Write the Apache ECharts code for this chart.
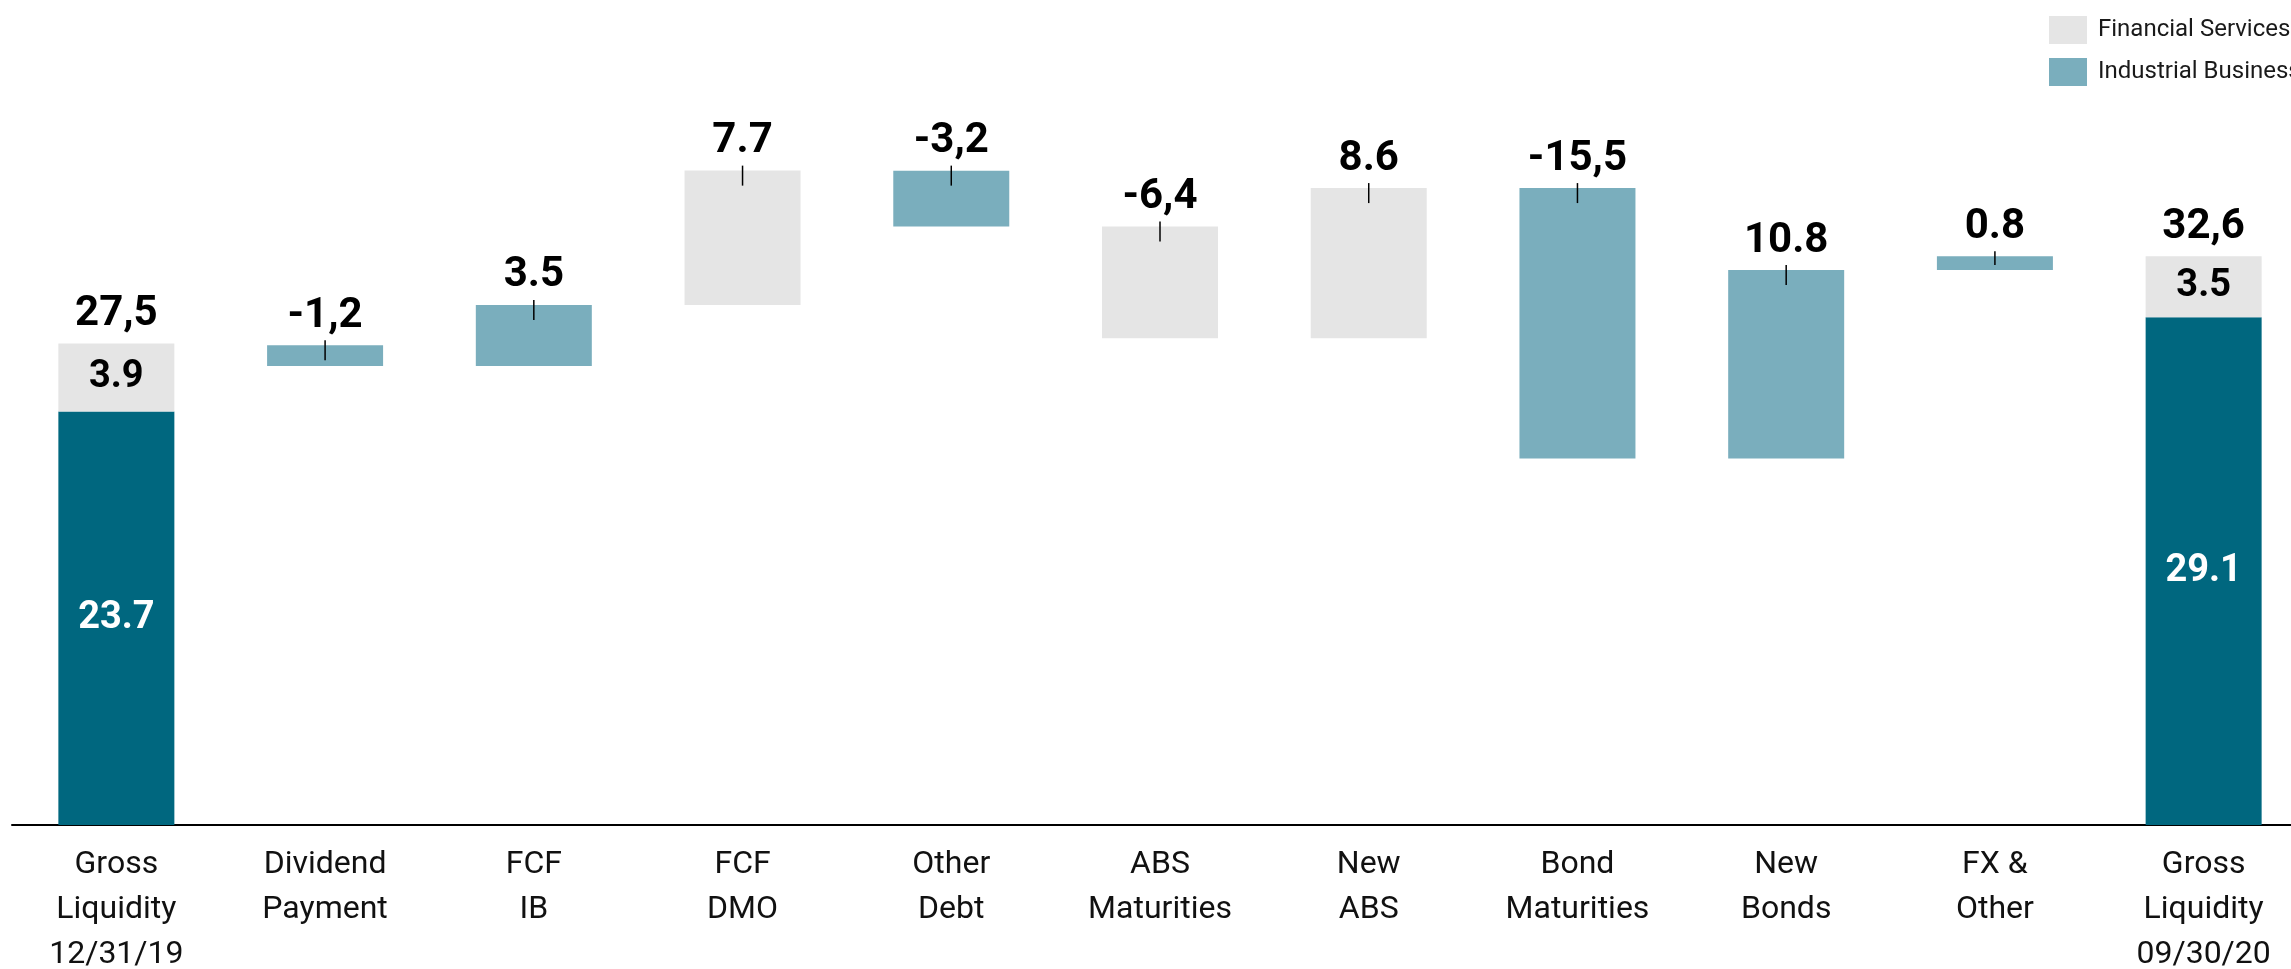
<!DOCTYPE html>
<html>
<head>
<meta charset="utf-8">
<script src="https://cdn.jsdelivr.net/npm/echarts@6/dist/echarts.min.js"></script>
<style>
  html, body { margin: 0; padding: 0; background: #ffffff; }
  #chart { width: 2291px; height: 969px; }
</style>
</head>
<body>
<div id="chart"></div>
<script>
// ---- data ----
const categories = [
  'Gross\nLiquidity\n12/31/19', 'Dividend\nPayment', 'FCF\nIB', 'FCF\nDMO', 'Other\nDebt',
  'ABS\nMaturities', 'New\nABS', 'Bond\nMaturities', 'New\nBonds', 'FX &\nOther',
  'Gross\nLiquidity\n09/30/20'
];
const startIB = 23.7;
const startFS = 3.9;
const startTotal = 27.5;
const endIB = 29.1;
const endFS = 3.5;
const endTotal = 32.6;
const deltas = [-1.2, 3.5, 7.7, -3.2, -6.4, 8.6, -15.5, 10.8, 0.8];
const deltaSegment = ['IB', 'IB', 'FS', 'IB', 'FS', 'FS', 'IB', 'IB', 'IB'];
const topLabels = ['27,5', '-1,2', '3.5', '7.7', '-3,2', '-6,4', '8.6', '-15,5', '10.8', '0.8', '32,6'];

// ---- build waterfall series ----
const n = categories.length;
const baseData = ['-'];
const totalData = [startIB];
const ibData = ['-'];
const fsData = [startFS];
const tickData = [[0, startIB + startFS, 0]];
let level = startTotal;
deltas.forEach((d, k) => {
  const i = k + 1;
  const next = level + d;
  const lo = Math.min(level, next), hi = Math.max(level, next);
  baseData.push(lo);
  totalData.push('-');
  if (deltaSegment[k] === 'IB') { ibData.push(Math.abs(d)); fsData.push('-'); }
  else { fsData.push(Math.abs(d)); ibData.push('-'); }
  tickData.push([i, hi, lo]);
  level = next;
});
baseData.push('-');
totalData.push(endIB);
ibData.push('-');
fsData.push(endFS);
tickData.push([n - 1, endIB + endFS, 0]);

const FONT = 'Roboto, "Noto Sans", "DejaVu Sans", sans-serif';
const C_DARK = '#00677f';
const C_IB = '#7aaebd';
const C_FS = '#e5e5e5';

const chart = echarts.init(document.getElementById('chart'), null, { renderer: 'canvas' });
chart.setOption({
  backgroundColor: '#ffffff',
  animation: false,
  legend: {
    data: ['Financial Services', 'Industrial Business'],
    orient: 'vertical',
    left: 2044,
    top: 11,
    itemWidth: 38,
    itemHeight: 28,
    itemGap: 14,
    icon: 'rect',
    textStyle: { fontFamily: FONT, fontSize: 24, color: '#1a1a1a', padding: [0, 0, 0, 6] }
  },
  grid: {
    left: 12, width: 2296, top: 127, height: 698,
    containLabel: false, outerBoundsMode: 'none'
  },
  xAxis: {
    type: 'category',
    data: categories,
    boundaryGap: true,
    axisLine: { show: true, lineStyle: { color: '#000000', width: 2 } },
    axisTick: { show: false },
    axisLabel: {
      interval: 0,
      margin: 17,
      fontFamily: FONT,
      fontSize: 32,
      lineHeight: 45,
      color: '#111111'
    }
  },
  yAxis: { type: 'value', min: 0, max: 40, show: false, splitLine: { show: false } },
  series: [
    {
      name: 'base', type: 'bar', stack: 'w', barWidth: 116,
      itemStyle: { color: 'rgba(0,0,0,0)' }, data: baseData, silent: true
    },
    {
      name: 'Total', type: 'bar', stack: 'w', barWidth: 116,
      itemStyle: { color: C_DARK }, data: totalData,
      label: {
        show: true, position: 'inside', color: '#ffffff',
        fontFamily: FONT, fontWeight: 'bold', fontSize: 38,
        formatter: p => String(p.value)
      }
    },
    {
      name: 'Industrial Business', type: 'bar', stack: 'w', barWidth: 116,
      itemStyle: { color: C_IB }, data: ibData
    },
    {
      name: 'Financial Services', type: 'bar', stack: 'w', barWidth: 116,
      itemStyle: { color: C_FS }, data: fsData,
      label: {
        show: true, position: 'inside', color: '#000000',
        fontFamily: FONT, fontWeight: 'bold', fontSize: 38,
        formatter: p => (p.dataIndex === 0 || p.dataIndex === n - 1) ? String(p.value) : ''
      }
    },
    {
      name: 'ticks', type: 'custom', z: 10, silent: true,
      encode: { x: 0, y: 1 },
      data: tickData,
      renderItem: function (params, api) {
        const i = api.value(0);
        const top = api.value(1);
        const bot = api.value(2);
        const pt = api.coord([i, top]);
        const pb = api.coord([i, bot]);
        const children = [];
        if (i > 0 && i < n - 1) {
          const h = pb[1] - pt[1];
          const down = Math.min(15, Math.max(h - 5, 4));
          children.push({
            type: 'line',
            shape: { x1: pt[0], y1: pt[1] - 5, x2: pt[0], y2: pt[1] + down },
            style: { stroke: '#000000', lineWidth: 1.5 }
          });
        }
        children.push({
          type: 'text',
          style: {
            text: topLabels[i], x: pt[0], y: pt[1] - 8,
            align: 'center', verticalAlign: 'bottom',
            fontFamily: FONT, fontWeight: 'bold', fontSize: 42, fill: '#000000'
          }
        });
        return { type: 'group', children: children };
      }
    }
  ]
});
</script>
</body>
</html>
